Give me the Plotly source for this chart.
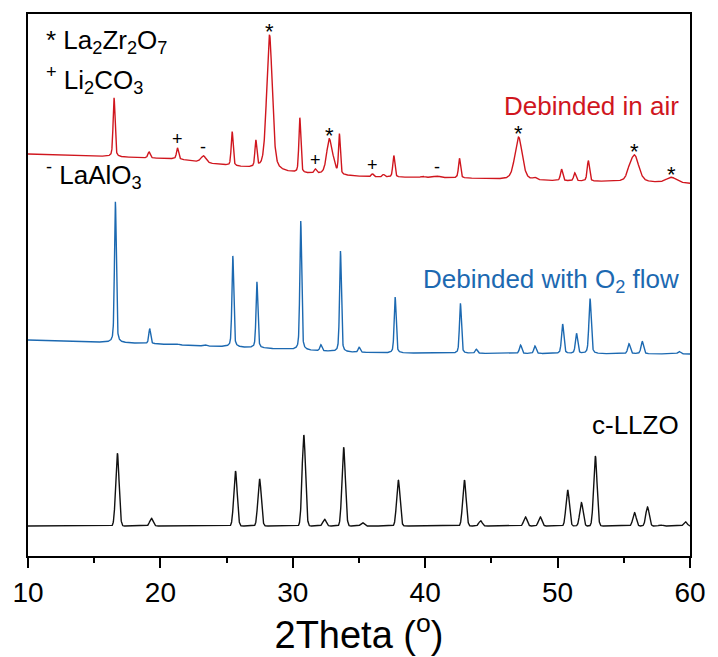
import numpy as np
import plotly.graph_objects as go

# ---------------- data ----------------
# Debinded in air (red): peak centre (2theta), height (a.u.), FWHM (deg)
air_pos = [16.50, 19.14, 21.29, 23.25, 25.42, 27.21, 28.24, 30.53, 31.70, 32.74, 33.05, 33.52,
           36.01, 36.85, 37.63, 39.80, 40.87, 42.59, 47.05, 48.27, 50.30, 51.30, 52.32, 55.40,
           55.81, 58.60]
air_int = [59, 6, 11, 7, 34, 26, 136, 55, 4, 33.5, 9, 40,
           3, 2.5, 21.5, 1, 1.5, 19.5, 43, 2, 11.5, 8, 20.5, 5,
           26.5, 5.5]
air_fwhm = [0.17, 0.2, 0.18, 0.45, 0.17, 0.17, 0.5, 0.17, 0.2, 0.45, 0.4, 0.16,
            0.2, 0.2, 0.18, 0.3, 0.5, 0.18, 0.65, 0.3, 0.2, 0.2, 0.2, 0.4,
            0.75, 0.9]
air_bg_x = [10, 16, 19, 21.3, 23.3, 24.7, 27.2, 28.2, 30.5, 31.7, 33.5, 36, 40, 42.6, 47, 50.3, 55.8, 58.6, 60]
air_bg_y = [402, 399.5, 398, 397, 393, 391, 387, 385, 382.5, 382, 380.5, 379, 378.5, 378, 376, 375, 374, 373, 372.5]

# Debinded with O2 flow (blue)
o2_pos = [16.60, 19.19, 21.20, 23.35, 25.47, 27.29, 30.60, 32.12, 33.60, 35.01, 37.73, 42.66,
          43.86, 47.20, 48.29, 50.38, 51.43, 52.45, 55.39, 56.39, 59.18]
o2_int = [141, 15, 1, 1.5, 91, 66, 129, 6, 101, 5, 56, 50,
          4, 8.5, 7.5, 29.5, 20, 55, 10, 12.5, 2.5]
o2_fwhm = [0.16, 0.16, 0.3, 0.3, 0.16, 0.16, 0.16, 0.18, 0.16, 0.18, 0.17, 0.17,
           0.2, 0.2, 0.2, 0.2, 0.2, 0.2, 0.22, 0.22, 0.25]
o2_bg_x = [10, 16, 19, 23, 25.5, 27.3, 30.6, 33.6, 37, 45, 60]
o2_bg_y = [216, 213.5, 212.5, 210, 209, 208, 206, 204, 203, 202.5, 202]

# c-LLZO reference (black)
llzo_pos = [16.75, 19.32, 25.67, 27.49, 30.83, 32.40, 33.84, 35.26, 37.97, 42.96, 44.18, 47.57,
            48.69, 50.76, 51.80, 52.85, 55.81, 56.79, 57.78, 59.65]
llzo_int = [72.7, 7.7, 55, 47, 91, 6.7, 78.7, 3.3, 46, 46, 5.3, 9,
            9, 36, 23.3, 70, 13.3, 19, 1, 4.3]
llzo_fwhm = 0.3
llzo_bg = 30

# phase markers on the "Debinded in air" pattern
mark_sym = ['*', '+', '-', '+', '*', '+', '-', '*', '*', '*']
mark_pos = [28.24, 21.29, 23.25, 31.70, 32.74, 36.01, 40.87, 47.05, 55.81, 58.60]

x_ticks = [10, 20, 30, 40, 50, 60]

# ---------------- build curves ----------------
tt = np.linspace(10, 60, 5001)


def profile(x, c, h, w, eta):
    d = (x - c) / w
    g = np.exp(-4 * np.log(2) * d ** 2)
    lo = 1.0 / (1 + 4 * d ** 2)
    return h * (eta * lo + (1 - eta) * g)


def pattern(pos, inten, fwhm, bgx, bgy, eta):
    y = np.interp(tt, bgx, bgy)
    fw = fwhm if isinstance(fwhm, list) else [fwhm] * len(pos)
    for c, h, w in zip(pos, inten, fw):
        y = y + profile(tt, c, h, w, eta)
    return y


y_air = pattern(air_pos, air_int, air_fwhm, air_bg_x, air_bg_y, 0.4)
y_o2 = pattern(o2_pos, o2_int, o2_fwhm, o2_bg_x, o2_bg_y, 0.4)
y_llzo = pattern(llzo_pos, llzo_int, llzo_fwhm, [10, 60], [llzo_bg, llzo_bg], 0.0)

RED = "#d0161e"
BLUE = "#1c69b1"
FONT = "Arial, 'Liberation Sans', sans-serif"

fig = go.Figure()
fig.add_trace(go.Scatter(x=tt, y=y_llzo, mode="lines", line=dict(color="#111111", width=1.4),
                         showlegend=False, hoverinfo="skip"))
fig.add_trace(go.Scatter(x=tt, y=y_o2, mode="lines", line=dict(color=BLUE, width=1.4),
                         showlegend=False, hoverinfo="skip"))
fig.add_trace(go.Scatter(x=tt, y=y_air, mode="lines", line=dict(color=RED, width=1.4),
                         showlegend=False, hoverinfo="skip"))

ann = []
sym_style = {'*': dict(size=22, yshift=3), '+': dict(size=18, yshift=9), '-': dict(size=18, yshift=9)}
for s, p in zip(mark_sym, mark_pos):
    yp = float(np.interp(p, tt, y_air))
    st = sym_style[s]
    ann.append(dict(x=p, y=yp, xref="x", yref="y", text=s, showarrow=False,
                    yanchor="middle", xanchor="center", yshift=st['yshift'],
                    font=dict(family=FONT, size=st['size'], color="black")))

# trace labels
ann.append(dict(x=59.35, y=float(np.interp(59.35, tt, y_air)), xref="x", yref="y",
                text="Debinded in air", showarrow=False, xanchor="right", yanchor="bottom", yshift=59,
                font=dict(family=FONT, size=26, color=RED)))
ann.append(dict(x=59.35, y=float(np.interp(59.35, tt, y_o2)), xref="x", yref="y",
                text="Debinded with O<sub>2</sub> flow", showarrow=False, xanchor="right", yanchor="bottom",
                yshift=54, font=dict(family=FONT, size=26, color=BLUE)))
ann.append(dict(x=59.35, y=llzo_bg, xref="x", yref="y",
                text="c-LLZO", showarrow=False, xanchor="right", yanchor="bottom",
                yshift=84, font=dict(family=FONT, size=26, color="black")))

# phase legend (top-left)
legend_lines = ["* La<sub>2</sub>Zr<sub>2</sub>O<sub>7</sub>",
                "<sup>+</sup> Li<sub>2</sub>CO<sub>3</sub>",
                "<sup>-</sup> LaAlO<sub>3</sub>"]
legend_y = [0.950, 0.878, 0.703]
for t, yy in zip(legend_lines, legend_y):
    ann.append(dict(x=0.024, y=yy, xref="paper", yref="paper", text=t, showarrow=False,
                    xanchor="left", yanchor="middle",
                    font=dict(family=FONT, size=26, color="black")))

fig.update_layout(
    width=718, height=657,
    margin=dict(l=28, r=21, t=14, b=101),
    plot_bgcolor="white", paper_bgcolor="white",
    annotations=ann,
    showlegend=False,
)
fig.update_xaxes(
    range=[10, 60], tickvals=x_ticks, ticks="outside", ticklen=10, tickwidth=2, tickcolor="black",
    showline=True, linewidth=2, linecolor="black", mirror=True, showgrid=False, zeroline=False,
    minor=dict(ticks="outside", ticklen=5, tickwidth=2, tickcolor="black", dtick=5, tick0=15),
    tickfont=dict(family=FONT, size=28, color="black"),
    title=dict(text="2Theta (<sup>o</sup>)", font=dict(family=FONT, size=38, color="black"), standoff=8),
)
fig.update_yaxes(
    range=[0, 542], showticklabels=False, ticks="", showline=True, linewidth=2, linecolor="black",
    mirror=True, showgrid=False, zeroline=False,
)

fig.write_html("out.html")
